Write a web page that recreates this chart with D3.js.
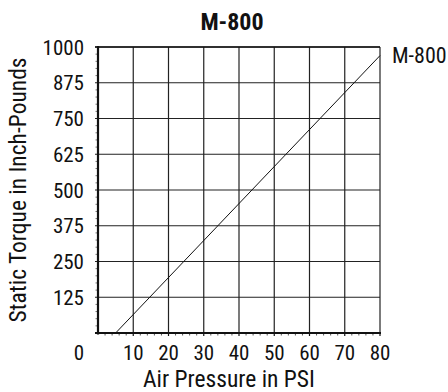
<!DOCTYPE html>
<html><head><meta charset="utf-8">
<script src="https://cdn.jsdelivr.net/npm/d3@7"></script>
<style>
body{margin:0;background:#fff;}
text{font-family:"Liberation Sans Narrow","Roboto Condensed","Arial Narrow",sans-serif;fill:#111;}
</style></head><body>
<svg id="c" width="448" height="392"></svg>
<script>
const title = "M-800";
const seriesName = "M-800";
const xTicks = [10,20,30,40,50,60,70,80];
const yTicks = [0,125,250,375,500,625,750,875,1000];
const pressure = [5, 80];
const torque = [0, 970];
const xLabel = "Air Pressure in PSI";
const yLabel = "Static Torque in Inch-Pounds";

const svg = d3.select("#c");
const m = {l:98, r:380, t:47, b:333};
const x = d3.scaleLinear().domain([0,80]).range([m.l, m.r]);
const y = d3.scaleLinear().domain([0,1000]).range([m.b, m.t]);

// grid
const g = svg.append("g");
g.selectAll("line.vx").data(xTicks).join("line")
  .attr("x1", d=>x(d)).attr("x2", d=>x(d)).attr("y1", m.t).attr("y2", m.b)
  .attr("stroke","#222").attr("stroke-width",1.2);
g.selectAll("line.hy").data(yTicks.filter(d=>d>0)).join("line")
  .attr("x1", m.l-3).attr("x2", m.r).attr("y1", d=>y(d)).attr("y2", d=>y(d))
  .attr("stroke","#222").attr("stroke-width",1.2);

// minor ticks
const yMinor = d3.range(0,1000,25).filter(d=>d%125!==0);
g.selectAll("line.ym").data(yMinor).join("line")
  .attr("x1", m.l-2.5).attr("x2", m.l).attr("y1", d=>y(d)).attr("y2", d=>y(d))
  .attr("stroke","#777").attr("stroke-width",1);
const xMinor = d3.range(2,80,2).filter(d=>d%10!==0);
g.selectAll("line.xm").data(xMinor).join("line")
  .attr("x1", d=>x(d)).attr("x2", d=>x(d)).attr("y1", m.b).attr("y2", m.b+2.5)
  .attr("stroke","#555").attr("stroke-width",1);
g.selectAll("line.xM").data(xTicks).join("line")
  .attr("x1", d=>x(d)).attr("x2", d=>x(d)).attr("y1", m.b).attr("y2", m.b+3)
  .attr("stroke","#111").attr("stroke-width",1.2);

// axes
svg.append("line").attr("x1", m.l).attr("x2", m.l).attr("y1", m.t-1).attr("y2", m.b+1.5)
  .attr("stroke","#111").attr("stroke-width",2.2);
svg.append("line").attr("x1", m.l-3).attr("x2", m.r+1).attr("y1", m.b).attr("y2", m.b)
  .attr("stroke","#111").attr("stroke-width",2.2);
svg.append("line").attr("x1", m.l-3).attr("x2", m.r).attr("y1", m.t).attr("y2", m.t)
  .attr("stroke","#111").attr("stroke-width",1.5);

// data line
const line = d3.line().x(d=>x(d[0])).y(d=>y(d[1]));
svg.append("path").datum(pressure.map((p,i)=>[p, torque[i]]))
  .attr("d", line).attr("fill","none").attr("stroke","#111").attr("stroke-width",1);

// tick labels
svg.selectAll("text.yt").data(yTicks).join("text")
  .attr("x", d=> d===0 ? 84 : 84)
  .attr("y", d=> d===0 ? 352 : y(d))
  .attr("dy","0.36em").attr("text-anchor","end").attr("font-size",21).text(d=>d);
svg.selectAll("text.xt").data(xTicks).join("text")
  .attr("x", d=>x(d)).attr("y", 352).attr("dy","0.36em")
  .attr("text-anchor","middle").attr("font-size",21).text(d=>d);

// titles
svg.append("text").attr("x", 232).attr("y", 21).attr("dy","0.36em")
  .attr("text-anchor","middle").attr("font-size",24).attr("font-weight","bold").text(title);
svg.append("text").attr("x", 392).attr("y", 55).attr("dy","0.36em")
  .attr("text-anchor","start").attr("font-size",22).text(seriesName);
svg.append("text").attr("x", 229).attr("y", 379).attr("dy","0.36em")
  .attr("text-anchor","middle").attr("font-size",23.5).text(xLabel);
svg.append("text").attr("transform","translate(18,190) rotate(-90)").attr("dy","0.36em")
  .attr("text-anchor","middle").attr("font-size",23.5).text(yLabel);
</script>
</body></html>
